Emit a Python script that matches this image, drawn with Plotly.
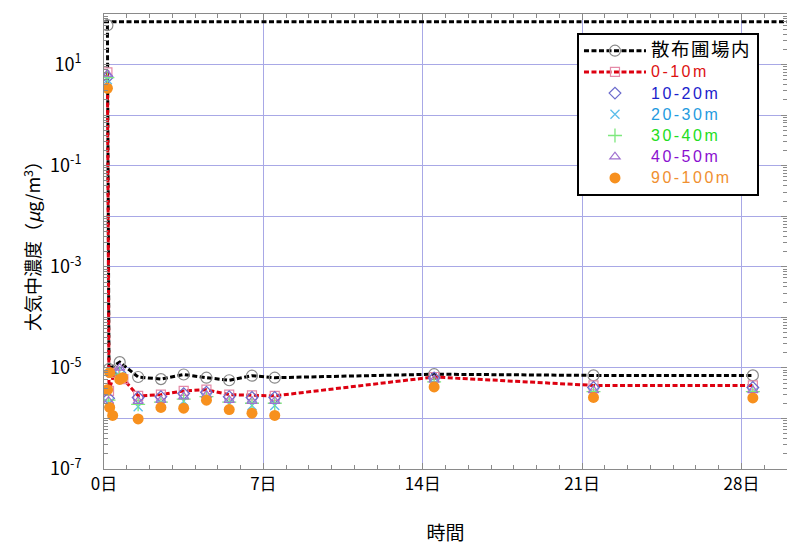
import plotly.graph_objects as go

# ---- measured concentrations (µg/m³) vs. elapsed days ----
days_field = [0.15, 0.22, 0.69, 1.5, 2.5, 3.5, 4.5, 5.5, 6.5, 7.5, 14.5, 21.5, 28.5]
conc_field = [60, 9.5e-6, 1.3e-5, 6.6e-6, 6.0e-6, 7.4e-6, 6.4e-6, 5.7e-6, 7.0e-6, 6.4e-6, 7.5e-6, 7.1e-6, 7.1e-6]

days_spray_level = [0, 30]
conc_spray_level = [70, 70]

days_0_10 = [0.15, 0.22, 0.45, 0.85, 1.5, 2.5, 3.5, 4.5, 5.5, 6.5, 7.5, 14.5, 21.5, 28.5]
conc_0_10 = [7.0, 3.5e-6, 8.0e-6, 6.0e-6, 2.8e-6, 2.95e-6, 3.5e-6, 3.7e-6, 2.95e-6, 2.85e-6, 2.8e-6, 6.6e-6, 4.5e-6, 4.5e-6]

days_common = [0.15, 0.2, 0.69, 1.5, 2.5, 3.5, 4.5, 5.5, 6.5, 7.5, 14.5, 21.5, 28.5]
conc_10_20 = [5.6, 2.5e-6, 8.0e-6, 2.6e-6, 2.7e-6, 3.1e-6, 3.3e-6, 2.7e-6, 2.6e-6, 2.6e-6, 6.3e-6, 4.1e-6, 4.1e-6]
conc_20_30 = [5.0, 2.0e-6, 7.0e-6, 1.7e-6, 1.9e-6, 2.2e-6, 2.5e-6, 1.9e-6, 1.8e-6, 1.8e-6, 5.0e-6, 3.2e-6, 3.2e-6]
conc_30_40 = [5.5, 2.3e-6, 7.5e-6, 1.9e-6, 2.1e-6, 2.4e-6, 2.7e-6, 2.1e-6, 2.0e-6, 2.0e-6, 5.3e-6, 3.4e-6, 3.4e-6]
conc_40_50 = [6.5, 2.2e-6, 1.0e-5, 2.2e-6, 2.3e-6, 2.7e-6, 2.9e-6, 2.3e-6, 2.2e-6, 2.2e-6, 5.8e-6, 3.6e-6, 3.6e-6]

days_90_100 = [0.15, 0.16, 0.25, 0.25, 0.38, 0.69, 0.82, 1.5, 2.5, 3.5, 4.5, 5.5, 6.5, 7.5, 14.5, 21.5, 28.5]
conc_90_100 = [3.4, 3.7e-6, 8.1e-6, 1.65e-6, 1.15e-6, 5.9e-6, 6.4e-6, 9.8e-7, 1.65e-6, 1.6e-6, 2.3e-6,
               1.5e-6, 1.27e-6, 1.15e-6, 4.2e-6, 2.6e-6, 2.55e-6]

x_tick_days = [0, 7, 14, 21, 28]
x_tick_text = ["0日", "7日", "14日", "21日", "28日"]
y_exponents = list(range(-7, 3))

FONT = "Noto Sans CJK JP"
LEGEND_FONT = "Liberation Sans"
DASH = "5px,2.5px"


def label(text, color, size=16, spacing=2.5, family=None):
    fam = f"font-family:'{family}';" if family else ""
    return (f'<span style="{fam}color:{color};font-size:{size}px;'
            f'letter-spacing:{spacing}px">{text}</span>')


fig = go.Figure()

fig.add_trace(go.Scatter(
    x=days_spray_level, y=conc_spray_level, mode="lines", showlegend=False,
    line=dict(color="black", width=3, dash=DASH), hoverinfo="skip"))

fig.add_trace(go.Scatter(
    x=days_field, y=conc_field, mode="lines+markers",
    name=label("散布圃場内", "black", 18.5, 1.5, FONT),
    line=dict(color="black", width=3, dash=DASH),
    marker=dict(symbol="circle-open", color="#888888", size=11, line=dict(width=1.2))))

fig.add_trace(go.Scatter(
    x=days_0_10, y=conc_0_10, mode="lines+markers", name=label("0-10m", "#dd1111"),
    line=dict(color="#dd0010", width=3, dash=DASH),
    marker=dict(symbol="square-open", color="#e58aa8", size=9, line=dict(width=1.2))))

fig.add_trace(go.Scatter(
    x=days_common, y=conc_10_20, mode="markers", name=label("10-20m", "#1a22cc"),
    marker=dict(symbol="diamond-open", color="#6a6acc", size=9, line=dict(width=1.2))))

fig.add_trace(go.Scatter(
    x=days_common, y=conc_20_30, mode="markers", name=label("20-30m", "#1f9be0"),
    marker=dict(symbol="x-thin-open", color="#5bbdea", size=9, line=dict(width=1.3))))

fig.add_trace(go.Scatter(
    x=days_common, y=conc_30_40, mode="markers", name=label("30-40m", "#22dd22"),
    marker=dict(symbol="cross-thin-open", color="#7de87d", size=10, line=dict(width=1.3))))

fig.add_trace(go.Scatter(
    x=days_common, y=conc_40_50, mode="markers", name=label("40-50m", "#8a10d0"),
    marker=dict(symbol="triangle-up-open", color="#a070d0", size=9, line=dict(width=1.2))))

fig.add_trace(go.Scatter(
    x=days_90_100, y=conc_90_100, mode="markers", name=label("90-100m", "#f09030"),
    marker=dict(symbol="circle", color="#f7901e", size=11)))

grid_color = "#a8a8e6"
axis_color = "#8a8a8a"

y_tick_vals = [10.0 ** e for e in y_exponents]
y_tick_text = [f"10<sup>{e}</sup>" if e % 2 else "" for e in y_exponents]
y_minor_vals = [k * 10.0 ** e for e in y_exponents[:-1] for k in range(2, 10)]

fig.update_xaxes(
    range=[0, 30], tickmode="array", tickvals=x_tick_days, ticktext=x_tick_text,
    ticks="inside", ticklen=6, tickcolor=axis_color, showline=True, linecolor=axis_color,
    mirror="ticks", showgrid=True, gridcolor=grid_color, gridwidth=1, zeroline=False,
    minor=dict(tickmode="linear", dtick=1, ticks="inside", ticklen=4, tickcolor=axis_color, showgrid=False),
    tickfont=dict(family=FONT, size=17, color="black"),
    title=dict(text="時間", font=dict(family=FONT, size=19, color="black"), standoff=33))

fig.update_yaxes(
    type="log", range=[-7, 2], tickmode="array", tickvals=y_tick_vals, ticktext=y_tick_text,
    ticks="inside", ticklen=6, tickcolor=axis_color, showline=True, linecolor=axis_color,
    mirror="ticks", showgrid=True, gridcolor=grid_color, gridwidth=1, zeroline=False,
    minor=dict(tickmode="array", tickvals=y_minor_vals, ticks="inside", ticklen=4,
               tickcolor=axis_color, showgrid=False),
    ticklabelstandoff=18,
    tickfont=dict(family=FONT, size=18, color="black"),
    title=dict(text="大気中濃度（<i>μ</i>g/m<sup>3</sup>）",
               font=dict(family=FONT, size=18, color="black"), standoff=4))

fig.update_layout(
    width=787, height=545, autosize=False,
    margin=dict(l=104, r=0, t=14, b=76),
    paper_bgcolor="white", plot_bgcolor="white",
    font=dict(family=FONT, color="black"),
    legend=dict(x=0.6925, y=0.958, xanchor="left", yanchor="top",
                bgcolor="white", bordercolor="black", borderwidth=2,
                font=dict(family=LEGEND_FONT, size=14), itemwidth=62,
                tracegroupgap=0),
)

fig.write_html("out.html")
